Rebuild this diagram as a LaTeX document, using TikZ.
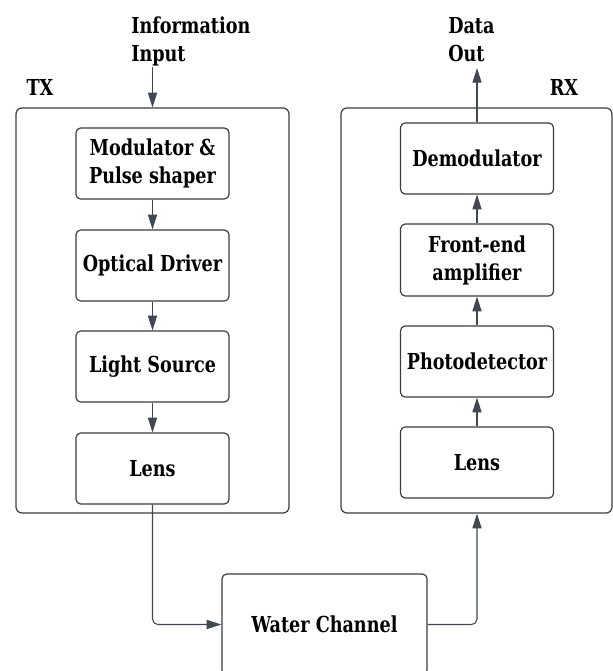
\documentclass[tikz,border=0pt]{standalone}
\usepackage{fontspec}
\setmainfont{DejaVu Serif Condensed}[FakeStretch=0.89]
\usetikzlibrary{arrows.meta}
\definecolor{edge}{HTML}{3A3D42}
\definecolor{wire}{HTML}{414852}
\tikzset{
  px/.style={x=0.75pt,y=-0.75pt},
  frame/.style={draw=edge,line width=0.9pt,rounded corners=4.5pt},
  block/.style={draw=edge,line width=0.9pt,rounded corners=3.5pt,
    minimum width=153*0.75pt,inner sep=0pt,align=center,
    font=\bfseries\fontsize{16.5}{21}\selectfont},
  lbl/.style={inner sep=0pt,align=left,font=\bfseries\fontsize{16.5}{21}\selectfont},
  arr/.style={draw=wire,line width=0.8pt,-{Triangle[length=11pt,width=6.8pt]}},
}
\begin{document}
\begin{tikzpicture}[px]
\useasboundingbox (0,0) rectangle (613,671);
\clip (0,0) rectangle (613,671);
\fill[white] (0,0) rectangle (613,671);

% transmitter and receiver enclosures
\node[frame,minimum width=273*0.75pt,minimum height=405*0.75pt] (tx) at (152.5,310.5) {};
\node[frame,minimum width=271*0.75pt,minimum height=405*0.75pt] (rx) at (476.5,310.5) {};
\node[lbl] (txl) at (40,87) {TX};
\node[lbl] (rxl) at (564,87) {RX};

% transmitter chain
\node[block,minimum height=71*0.75pt] (mod) at (152.5,163.5) {Modulator \&\\Pulse shaper};
\node[block,minimum height=71*0.75pt] (drv) at (152.5,265.5) {Optical Driver};
\node[block,minimum height=71*0.75pt] (src) at (152.5,366.5) {Light Source};
\node[block,minimum height=71*0.75pt] (lnt) at (152.5,468.5) {Lens};

% receiver chain
\node[block,minimum height=71*0.75pt] (dem) at (477,158.5) {Demodulator};
\node[block,minimum height=72*0.75pt] (fe)  at (477,260) {Front-end\\amplifier};
\node[block,minimum height=71*0.75pt] (pd)  at (477,361.5) {Photodetector};
\node[block,minimum height=71*0.75pt] (lnr) at (477,462.5) {Lens};

% channel
\node[block,minimum width=205*0.75pt,minimum height=101*0.75pt] (wc) at (324.5,624.5) {Water Channel};

% input / output
\node[lbl,anchor=north west] (info) at (131,17) {Information\\Input};
\node[lbl,anchor=north west] (dout) at (448,17) {Data\\Out};
\coordinate (inTop) at (152.5,67);
\coordinate (outTop) at (477,68);

% connectors
\draw[arr] (inTop) -- (tx.north);
\draw[arr] (mod) -- (drv);
\draw[arr] (drv) -- (src);
\draw[arr] (src) -- (lnt);
\draw[arr,rounded corners=4pt] (lnt.south) |- (wc.west);
\draw[arr,rounded corners=4pt] (wc.east) -| (rx.south -| lnr.south);
\draw[arr] (lnr) -- (pd);
\draw[arr] (pd) -- (fe);
\draw[arr] (fe) -- (dem);
\draw[arr] (dem.north) -- (outTop);
\end{tikzpicture}
\end{document}
